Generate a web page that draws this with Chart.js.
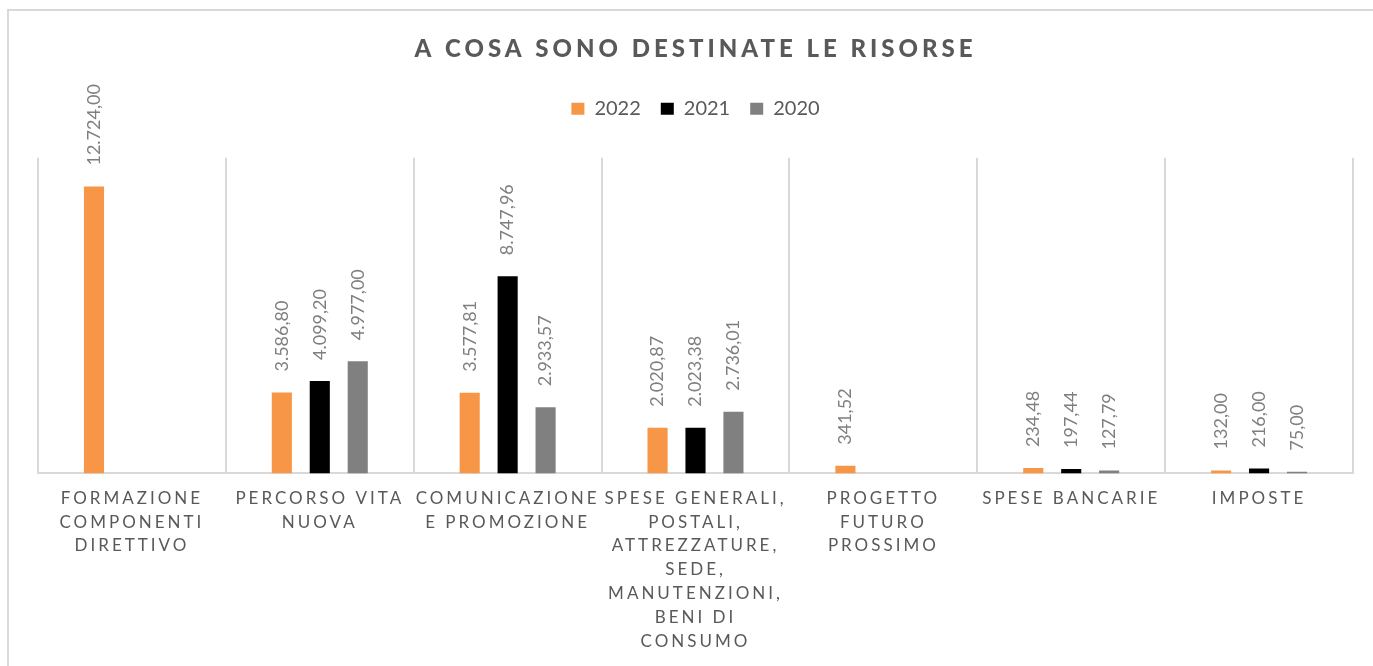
<!DOCTYPE html>
<html>
<head>
<meta charset="utf-8">
<script src="https://cdn.jsdelivr.net/npm/chart.js@4.4.1/dist/chart.umd.min.js"></script>
<style>
html, body { margin: 0; padding: 0; background: #fff; }
#frame { position: absolute; left: 7px; top: 9px; width: 1400px; height: 700px; border: 2px solid #d9d9d9; }
#wrap { position: absolute; left: 0; top: 0; width: 1373px; height: 666px; }
</style>
</head>
<body>
<div id="frame"></div>
<div id="wrap"><canvas id="risorseChart"></canvas></div>
<script>
const categories = [
    ['FORMAZIONE', 'COMPONENTI', 'DIRETTIVO'],
    ['PERCORSO VITA', 'NUOVA'],
    ['COMUNICAZIONE', 'E PROMOZIONE'],
    ['SPESE GENERALI,', 'POSTALI,', 'ATTREZZATURE,', 'SEDE,', 'MANUTENZIONI,', 'BENI DI', 'CONSUMO'],
    ['PROGETTO', 'FUTURO', 'PROSSIMO'],
    ['SPESE BANCARIE'],
    ['IMPOSTE']
];
const values2022 = [12724.00, 3586.80, 3577.81, 2020.87, 341.52, 234.48, 132.00];
const values2021 = [null, 4099.20, 8747.96, 2023.38, null, 197.44, 216.00];
const values2020 = [null, 4977.00, 2933.57, 2736.01, null, 127.79, 75.00];

// 12724 -> "12.724,00"
function formatIt(v) {
    const parts = v.toFixed(2).split('.');
    return parts[0].replace(/\B(?=(\d{3})+(?!\d))/g, '.') + ',' + parts[1];
}

const barLabels = {
    id: 'barLabels',
    afterDatasetsDraw(chart) {
        const ctx = chart.ctx;
        ctx.save();
        ctx.font = '18px Lato';
        ctx.fillStyle = '#7f7f7f';
        ctx.textAlign = 'left';
        ctx.textBaseline = 'middle';
        chart.data.datasets.forEach((ds, i) => {
            chart.getDatasetMeta(i).data.forEach((bar, j) => {
                const v = ds.data[j];
                if (v === null) return;
                ctx.save();
                ctx.translate(bar.x, bar.y - 21);
                ctx.rotate(-Math.PI / 2);
                ctx.fillText(formatIt(v), 0, 0);
                ctx.restore();
            });
        });
        ctx.restore();
    }
};

// letter spacing for title and category labels, extra room under the legend
const spacing = {
    id: 'spacing',
    afterInit(chart) {
        const lg = chart.legend;
        const fit = lg.fit;
        lg.fit = function () { fit.call(this); this.height += 29; };
        const tb = chart.titleBlock;
        const draw = tb.draw;
        tb.draw = function (...a) { chart.ctx.letterSpacing = '4px'; draw.apply(this, a); chart.ctx.letterSpacing = '0px'; };
    },
    beforeDraw(chart) {
        const x = chart.scales.x;
        if (!x._spaced) {
            const dl = x.drawLabels;
            x.drawLabels = function (...a) { chart.ctx.letterSpacing = '3px'; dl.apply(this, a); chart.ctx.letterSpacing = '0px'; };
            x._spaced = true;
        }
    }
};

const ctx = document.getElementById('risorseChart').getContext('2d');
new Chart(ctx, {
    type: 'bar',
    data: {
        labels: categories,
        datasets: [
            { label: '2022', data: values2022, backgroundColor: '#f79646' },
            { label: '2021', data: values2021, backgroundColor: '#000000' },
            { label: '2020', data: values2020, backgroundColor: '#808080' }
        ]
    },
    options: {
        responsive: true,
        maintainAspectRatio: false,
        animation: false,
        categoryPercentage: 0.606,
        barPercentage: 0.53,
        layout: { padding: { left: 38, right: 20, top: 0, bottom: 0 } },
        plugins: {
            title: {
                display: true,
                text: 'A COSA SONO DESTINATE LE RISORSE',
                color: '#595959',
                font: { family: 'Lato', size: 24, weight: 900 },
                padding: { top: 35, bottom: 15 }
            },
            legend: {
                position: 'top',
                labels: { color: '#595959', font: { family: 'Lato', size: 20 }, boxWidth: 13, boxHeight: 12, padding: 20 }
            },
            tooltip: { enabled: false }
        },
        scales: {
            x: {
                grid: { color: '#d9d9d9', lineWidth: 2, drawTicks: false, offset: true },
                border: { color: '#d9d9d9', width: 2 },
                ticks: { color: '#595959', font: { family: 'Lato', size: 17, lineHeight: 1.4 }, padding: 13, maxRotation: 0, autoSkip: false }
            },
            y: { display: false, min: 0, max: 14000 }
        }
    },
    plugins: [barLabels, spacing]
});
</script>
</body>
</html>
